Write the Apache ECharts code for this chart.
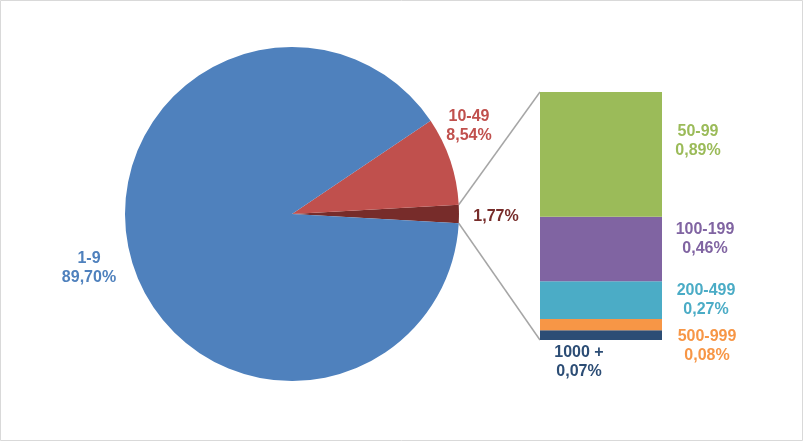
<!DOCTYPE html>
<html><head><meta charset="utf-8">
<script src="https://cdn.jsdelivr.net/npm/echarts@6/dist/echarts.min.js"></script>
<style>html,body{margin:0;padding:0;background:#fff}#c{width:803px;height:441px}</style>
</head><body><div id="c"></div>
<script>
// Pie data (main pie)
var pieNames = ['1,77%', '10-49', '1-9'];
var pieLabels = ['1,77%', '10-49\n8,54%', '1-9\n89,70%'];
var pieValues = [1.77, 8.54, 89.70];
var pieColors = ['#772C2A', '#C0504D', '#4F81BD'];
// Breakdown bar data (bottom to top)
var barNames = ['1000 +', '500-999', '200-499', '100-199', '50-99'];
var barValues = [0.07, 0.08, 0.27, 0.46, 0.89];
var barLabelText = ['0,07%', '0,08%', '0,27%', '0,46%', '0,89%'];
var barColors = ['#2C4D75', '#F79646', '#4BACC6', '#8064A2', '#9BBB59'];

var FONT = '"Liberation Sans", Arial, sans-serif';
var pieCenter = [292, 214], pieR = 167;
var otherDeg = pieValues[0] / pieValues.reduce(function(a,b){return a+b;},0) * 360;
var startAngle = -otherDeg / 2;
var gridL = 540, gridT = 92, gridW = 122, gridH = 248;
// label layout (style) for pie labels: centers
var pieLabelPos = [[496, 217], [469, 126], [89, 268]];
// bar label offsets relative to each bar segment rect
var barLabelOff = [[39, 32], [167, 27], [166, 18.5], [165, 22.5], [158, 49]];
var barTotal = barValues.reduce(function(a,b){return a+b;},0);

var chart = echarts.init(document.getElementById('c'));
var series = [{
  type: 'pie', center: pieCenter, radius: pieR, startAngle: startAngle, clockwise: false,
  animation: false,
  label: {show: true, position: 'outside', fontFamily: FONT, fontWeight: 'bold', fontSize: 16, lineHeight: 19, align: 'center',
    formatter: function(p){ return pieLabels[p.dataIndex]; }},
  labelLine: {show: false},
  labelLayout: function(p){ var q = pieLabelPos[p.dataIndex]; return {x: q[0], y: q[1], align: 'center', verticalAlign: 'middle'}; },
  emphasis: {disabled: true},
  data: pieValues.map(function(v, i){ return {name: pieNames[i], value: v, itemStyle: {color: pieColors[i]}, label: {color: pieColors[i]}}; })
}];
barValues.forEach(function(v, i){
  series.push({
    type: 'bar', stack: 'b', barWidth: '100%', animation: false, name: barNames[i],
    itemStyle: {color: barColors[i]},
    label: {show: true, position: barLabelOff[i], align: 'center', verticalAlign: 'middle', color: barColors[i],
      fontFamily: FONT, fontWeight: 'bold', fontSize: 16, lineHeight: 19,
      formatter: barNames[i] + '\n' + barLabelText[i]},
    emphasis: {disabled: true},
    data: [v]
  });
});
chart.setOption({
  backgroundColor: '#fff',
  grid: {left: gridL, top: gridT, width: gridW, height: gridH},
  xAxis: {type: 'category', data: ['x'], show: false},
  yAxis: {type: 'value', min: 0, max: barTotal, show: false},
  series: series
});
// connector lines from the "other" slice edges to the bar corners
var a1 = (startAngle + otherDeg) * Math.PI / 180, a0 = startAngle * Math.PI / 180;
var pTop = [pieCenter[0] + pieR * Math.cos(a1), pieCenter[1] - pieR * Math.sin(a1)];
var pBot = [pieCenter[0] + pieR * Math.cos(a0), pieCenter[1] - pieR * Math.sin(a0)];
var yTop = chart.convertToPixel({yAxisIndex: 0}, barTotal);
var yBot = chart.convertToPixel({yAxisIndex: 0}, 0);
chart.setOption({
  graphic: [
    {type: 'rect', shape: {x: 0.5, y: 0.5, width: 802, height: 440}, style: {fill: 'none', stroke: '#d9d9d9', lineWidth: 1}, silent: true},
    {type: 'line', shape: {x1: pTop[0], y1: pTop[1], x2: gridL, y2: yTop}, style: {stroke: '#a6a6a6', lineWidth: 1.5}, z: 0, silent: true},
    {type: 'line', shape: {x1: pBot[0], y1: pBot[1], x2: gridL, y2: yBot}, style: {stroke: '#a6a6a6', lineWidth: 1.5}, z: 0, silent: true}
  ]
});
</script></body></html>
